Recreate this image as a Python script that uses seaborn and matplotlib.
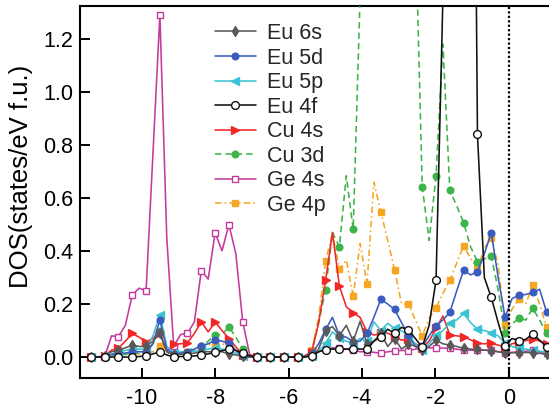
import numpy as np
import matplotlib
matplotlib.use("Agg")
import matplotlib.pyplot as plt
import seaborn as sns

# Energy grid (eV, relative to E_F), 67 points
energy = np.round(np.linspace(-11.385, 1.023, 67), 3)

# Projected DOS (states/eV f.u.)
eu_6s = [0, 0, 0.005, 0.02, 0.025, 0.035, 0.045, 0.04, 0.04, 0.06,
         0.09, 0.02, 0.008, 0.01, 0.012, 0.015, 0.02, 0.02, 0.02, 0.02,
         0.011, 0.008, 0.003, 0, 0, 0, 0, 0, 0, 0,
         0, 0.002, 0.005, 0.03, 0.1, 0.115, 0.08, 0.12, 0.06, 0.135,
         0.05, 0.06, 0.09, 0.04, 0.07, 0.03, 0.05, 0.04, 0.026, 0.04,
         0.064, 0.05, 0.045, 0.04, 0.033, 0.03, 0.029, 0.026, 0.024, 0.02,
         0.015, 0.016, 0.017, 0.017, 0.017, 0.014, 0.01]
eu_5d = [0, 0, 0.003, 0.01, 0.015, 0.015, 0.02, 0.02, 0.02, 0.05,
         0.14, 0.03, 0.01, 0.015, 0.02, 0.03, 0.043, 0.05, 0.064, 0.06,
         0.052, 0.025, 0.003, 0, 0, 0, 0, 0, 0, 0,
         0, 0.002, 0.01, 0.05, 0.104, 0.15, 0.08, 0.075, 0.058, 0.06,
         0.089, 0.15, 0.218, 0.2, 0.18, 0.13, 0.083, 0.04, 0.04, 0.08,
         0.118, 0.14, 0.169, 0.25, 0.328, 0.31, 0.322, 0.39, 0.469, 0.3,
         0.15, 0.22, 0.234, 0.236, 0.244, 0.256, 0.171]
eu_5p = [0, 0, 0.003, 0.01, 0.02, 0.025, 0.03, 0.03, 0.03, 0.08,
         0.16, 0.04, 0.015, 0.02, 0.02, 0.022, 0.025, 0.03, 0.035, 0.03,
         0.025, 0.015, 0.003, 0, 0, 0, 0, 0, 0, 0,
         0, 0.002, 0.005, 0.02, 0.052, 0.095, 0.072, 0.06, 0.05, 0.07,
         0.06, 0.133, 0.1, 0.127, 0.108, 0.1, 0.077, 0.05, 0.026, 0.05,
         0.083, 0.1, 0.127, 0.14, 0.165, 0.13, 0.105, 0.1, 0.092, 0.08,
         0.052, 0.04, 0.033, 0.03, 0.026, 0.022, 0.018]
eu_4f = [0, 0, 0, 0, 0, 0, 0, 0.002, 0.005, 0.012,
         0.02, 0.008, 0, 0.002, 0.003, 0.004, 0.008, 0.012, 0.018, 0.024,
         0.03, 0.025, 0.014, 0.005, 0, 0, 0, 0, 0, 0,
         0, 0, 0.005, 0.02, 0.028, 0.03, 0.03, 0.03, 0.032, 0.03,
         0.03, 0.06, 0.077, 0.105, 0.09, 0.112, 0.102, 0.07, 0.037, 0.12,
         0.29, 1.36, 2.9, 3.8, 3.5, 4.0, 0.84, 0.3, 0.225, 0.13,
         0.043, 0.07, 0.062, 0.067, 0.087, 0.064, 0.039]
cu_4s = [0, 0, 0.005, 0.026, 0.033, 0.06, 0.089, 0.075, 0.058, 0.07,
         0.09, 0.02, 0.049, 0.05, 0.054, 0.089, 0.133, 0.095, 0.133, 0.1,
         0.07, 0.039, 0.008, 0, 0, 0, 0, 0, 0, 0,
         0, 0.005, 0.02, 0.13, 0.29, 0.47, 0.268, 0.19, 0.167, 0.15,
         0.095, 0.083, 0.089, 0.09, 0.077, 0.064, 0.067, 0.05, 0.035, 0.06,
         0.108, 0.155, 0.083, 0.08, 0.077, 0.065, 0.052, 0.05, 0.052, 0.045,
         0.038, 0.05, 0.058, 0.062, 0.07, 0.06, 0.05]
cu_3d = [0, 0, 0.002, 0.005, 0.01, 0.01, 0.015, 0.015, 0.02, 0.05,
         0.098, 0.02, 0.01, 0.012, 0.015, 0.025, 0.04, 0.06, 0.083, 0.085,
         0.114, 0.075, 0.03, 0.003, 0, 0, 0, 0, 0, 0,
         0, 0.005, 0.02, 0.13, 0.253, 0.47, 0.416, 0.684, 0.482, 1.36,
         2.2, 2.6, 3.0, 2.8, 2.5, 2.3, 2.0, 1.65, 0.643, 0.44,
         0.684, 1.18, 0.63, 0.57, 0.507, 0.416, 0.36, 0.37, 0.381, 0.253,
         0.089, 0.125, 0.146, 0.14, 0.184, 0.14, 0.089]
ge_4s = [0, 0, 0, 0.08, 0.077, 0.12, 0.234, 0.26, 0.249, 0.77,
         1.29, 0.45, 0.041, 0.085, 0.09, 0.133, 0.326, 0.294, 0.469, 0.401,
         0.50, 0.39, 0.133, 0.01, 0, 0, 0, 0, 0, 0,
         0, 0.002, 0.008, 0.02, 0.03, 0.035, 0.033, 0.03, 0.025, 0.02,
         0.02, 0.018, 0.014, 0.02, 0.023, 0.025, 0.024, 0.03, 0.033, 0.035,
         0.035, 0.034, 0.033, 0.03, 0.026, 0.026, 0.026, 0.026, 0.026, 0.02,
         0.015, 0.018, 0.02, 0.022, 0.025, 0.02, 0.015]
ge_4p = [0, 0, 0.002, 0.005, 0.01, 0.01, 0.012, 0.012, 0.015, 0.02,
         0.04, 0.015, 0.008, 0.01, 0.02, 0.03, 0.039, 0.045, 0.054, 0.05,
         0.043, 0.025, 0.005, 0, 0, 0, 0, 0, 0, 0,
         0, 0.005, 0.025, 0.15, 0.362, 0.467, 0.331, 0.366, 0.23, 0.429,
         0.275, 0.66, 0.548, 0.44, 0.328, 0.2, 0.2, 0.14, 0.08, 0.146,
         0.186, 0.24, 0.29, 0.355, 0.419, 0.372, 0.335, 0.41, 0.451, 0.347,
         0.121, 0.18, 0.22, 0.2, 0.27, 0.2, 0.114]

labels = ["Eu 6s", "Eu 5d", "Eu 5p", "Eu 4f", "Cu 4s", "Cu 3d", "Ge 4s", "Ge 4p"]
x_ticks = [-10, -8, -6, -4, -2, 0]
y_ticks = [0.0, 0.2, 0.4, 0.6, 0.8, 1.0, 1.2]

sns.set_theme(style="ticks")
plt.rcParams["font.family"] = ["Liberation Sans", "DejaVu Sans"]
plt.rcParams["axes.unicode_minus"] = False

# label: (values, color, marker, face, linestyle, markersize, zorder)
styles = {
    "Eu 6s": (eu_6s, "#595959", "d", "#595959", "-", 5.6, 8),
    "Eu 5d": (eu_5d, "#3a5cc0", "o", "#3a5cc0", "-", 4.8, 7),
    "Eu 5p": (eu_5p, "#3cc3d3", "<", "#3cc3d3", "-", 5.5, 6),
    "Eu 4f": (eu_4f, "#111111", "o", "white", "-", 5.6, 9),
    "Cu 4s": (cu_4s, "#f02828", ">", "#f02828", "-", 5.5, 5),
    "Cu 3d": (cu_3d, "#3cb44a", "o", "#3cb44a", (0, (4, 2.5)), 4.8, 4),
    "Ge 4s": (ge_4s, "#c43a9c", "s", "white", "-", 4.8, 2),
    "Ge 4p": (ge_4p, "#f5a623", "s", "#f5a623", (0, (4, 2, 1, 2)), 4.6, 3),
}

fig = plt.figure(figsize=(5.49, 4.09), dpi=100)
ax = fig.add_axes([0.1464, 0.0758, 0.8736, 0.9095])

for name in labels:
    vals, color, marker, face, ls, ms, z = styles[name]
    sns.lineplot(x=energy, y=vals, ax=ax, color=color, marker=marker,
                 markevery=2, markersize=ms, markerfacecolor=face,
                 markeredgecolor=color, markeredgewidth=1.0,
                 linestyle=ls, linewidth=1.15, label=name, zorder=z,
                 legend=False, errorbar=None, sort=False)

ax.axvline(0, color="black", linestyle=(0, (1, 1)), linewidth=1.6, zorder=10)

ax.set_xlim(-11.67, 1.39)
ax.set_ylim(-0.079, 1.3245)
ax.set_xticks(x_ticks)
ax.set_xticklabels([str(t) for t in x_ticks])
ax.set_yticks(y_ticks)
ax.set_yticklabels([f"{t:.1f}" for t in y_ticks])
ax.tick_params(axis="both", direction="in", length=7, width=1.4,
               labelsize=15.5, color="black", labelcolor="black")
ax.tick_params(axis="x", pad=7, top=False)
ax.tick_params(axis="y", pad=5, right=False)
for side in ["left", "bottom", "top", "right"]:
    ax.spines[side].set_linewidth(1.5)
    ax.spines[side].set_color("black")

ax.set_xlabel("")
ax.set_ylabel("DOS(states/eV f.u.)", fontsize=18.5, color="black")
ax.yaxis.set_label_coords(-0.099, 0.543)

handles, hl = ax.get_legend_handles_labels()
order = [hl.index(n) for n in labels]
ax.legend([handles[i] for i in order], [hl[i] for i in order],
          loc="upper left", bbox_to_anchor=(215 / 549, 1 - 23 / 409),
          bbox_transform=fig.transFigure, frameon=False, fontsize=15.5,
          handlelength=1.9, handletextpad=0.5, labelspacing=0.165,
          borderpad=0, borderaxespad=0)

fig.savefig("out.png", dpi=100)
